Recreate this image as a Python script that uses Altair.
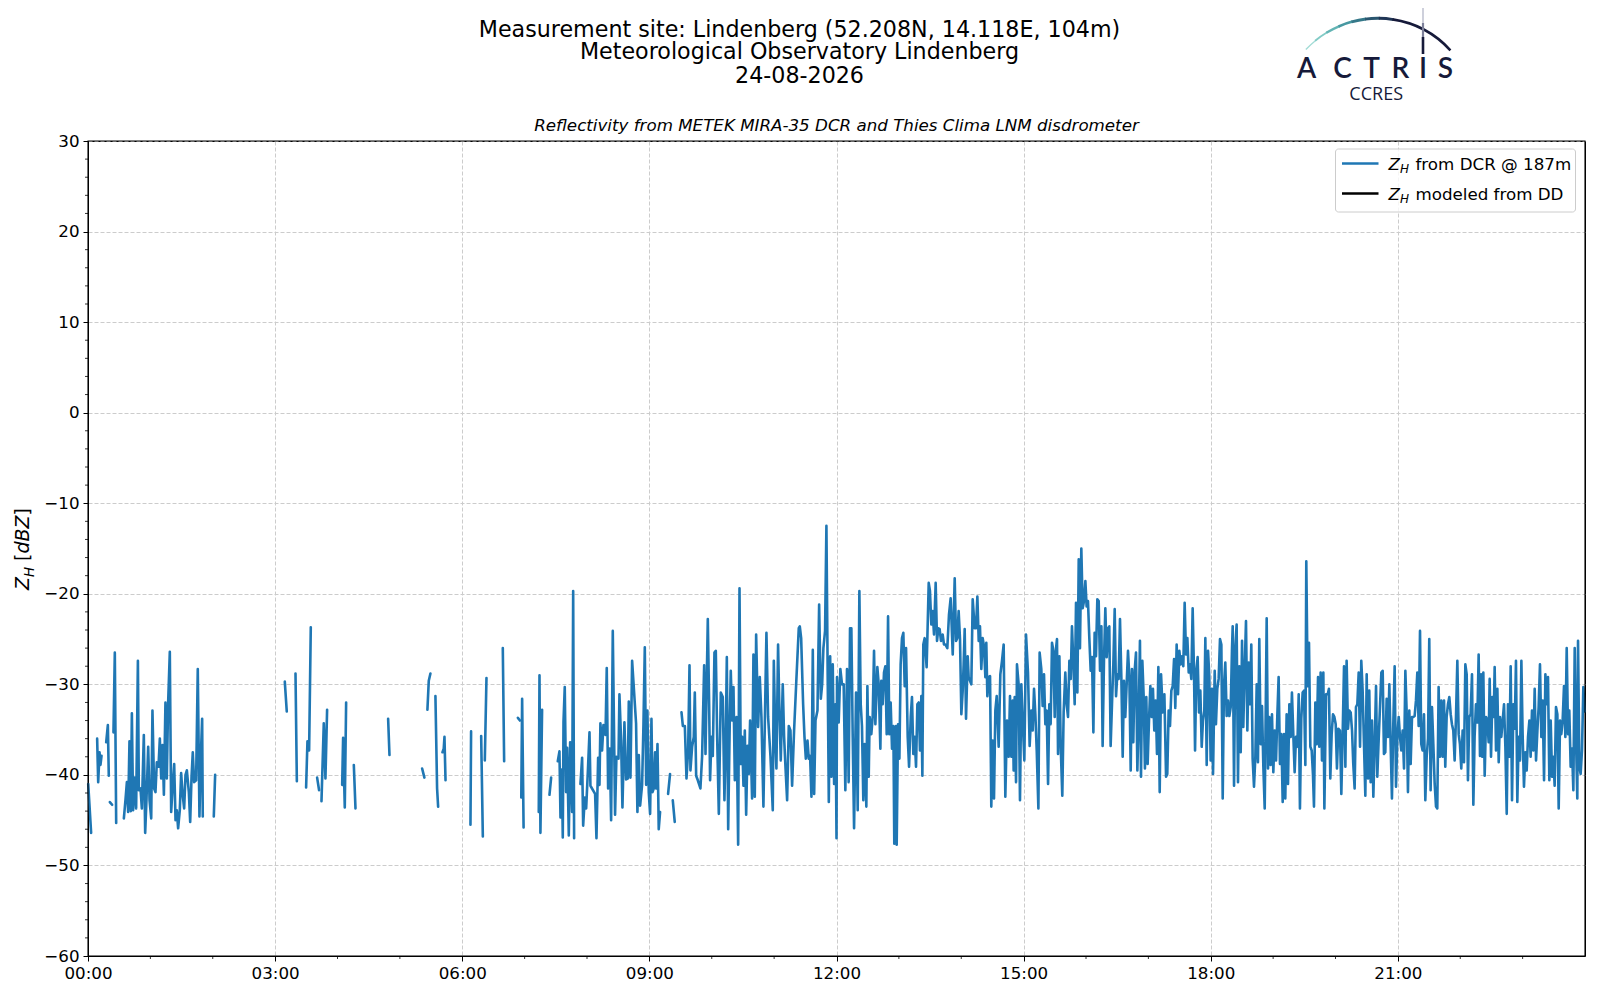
import altair as alt
import pandas as pd

GAP = None  # marks a gap in the radar record

# (minute of day, Z_H in dBZ)
dcr_0000_0300 = [
    (0.2, -41.0), (3.0, -46.4), GAP,
    (8.8, -36.0), (9.8, -40.8), (11.1, -37.5), (12.0, -38.9), (13.0, -37.9), GAP,
    (17.5, -36.4), (19.1, -34.5), (20.0, -40.1), GAP,
    (21.0, -43.0), (23.2, -43.3), GAP,
    (24.5, -35.3), (25.8, -26.5), (27.1, -45.3), GAP,
    (34.5, -44.8), (36.1, -42.7), (37.4, -40.8), (38.6, -44.1), (39.9, -36.3), (41.2, -44.0),
    (42.2, -33.2), (43.4, -43.9), (44.7, -40.3), (46.3, -43.7), (48.0, -27.4), (48.9, -41.7),
    (50.5, -41.5), (51.8, -43.7), (53.7, -35.6), (55.0, -46.4), (56.3, -42.6), (57.9, -36.9),
    (59.2, -42.8), (60.8, -44.8), (62.0, -32.9), (63.6, -41.5), (64.9, -41.9), (66.2, -38.6),
    (67.8, -39.1), (69.1, -36.0), (70.4, -40.4), (71.7, -36.7), (73.0, -42.2), (74.5, -32.0),
    (75.8, -40.4), (77.1, -32.0), (78.7, -26.4), (80.0, -44.1), (81.3, -41.5), (82.9, -38.8),
    (84.2, -45.0), (85.4, -43.9), (86.7, -45.9), (88.3, -43.9), (89.6, -39.8), (90.9, -42.0),
    (92.5, -43.7), (93.8, -40.0), (95.1, -39.5), (97.0, -41.9), (98.3, -45.2), (99.6, -40.2),
    (100.8, -37.5), (102.1, -40.8), (104.0, -40.6), (105.6, -28.3), (107.2, -44.6), (108.5, -38.0),
    (109.8, -33.8), (110.4, -44.6), GAP,
    (121.0, -44.6), (122.3, -40.0),
]

dcr_0300_0600 = [
    GAP,
    (189.3, -29.7), (191.2, -33.0), GAP,
    (199.6, -28.8), (200.9, -40.7), GAP,
    (209.8, -41.4), (211.1, -36.3), (212.7, -37.3), (214.3, -23.7), GAP,
    (220.4, -40.3), (222.3, -41.7), GAP,
    (224.6, -42.9), (226.8, -34.3), (228.4, -40.4), (230.0, -32.8), GAP,
    (244.5, -41.1), (245.4, -35.9), (247.0, -43.6), (248.3, -32.0), GAP,
    (255.7, -38.9), (257.3, -43.7), GAP,
    (288.7, -33.8), (290.0, -37.8), GAP,
    (321.4, -39.3), (323.6, -40.3), GAP,
    (326.5, -32.8), (327.8, -29.6), (329.4, -28.8), GAP,
    (334.2, -31.3), (335.8, -41.5), (336.8, -43.5), GAP,
    (341.0, -37.5), (342.2, -37.1), (342.9, -35.8), (343.9, -40.6),
]

dcr_0600_0930 = [
    GAP,
    (367.9, -45.5), (368.5, -35.2), GAP,
    (378.2, -35.7), (379.8, -46.8), GAP,
    (381.7, -38.4), (383.3, -29.3), GAP,
    (399.0, -26.0), (400.3, -38.5), GAP,
    (413.5, -33.7), (415.5, -34.0), GAP,
    (416.8, -42.5), (417.6, -31.6), (419.0, -45.8), GAP,
    (433.6, -44.1), (434.3, -29.0), (435.2, -46.4), (436.8, -32.8), GAP,
    (443.9, -42.2), (445.5, -40.3), GAP,
    (451.9, -38.5), (453.5, -37.4), (454.5, -44.7), (455.8, -39.4), (456.7, -46.9), (457.4, -34.1),
    (458.6, -30.3), (459.9, -41.9), (460.9, -37.0), (462.5, -46.7), (463.8, -36.4), (465.7, -44.1),
    (466.7, -19.7), (467.6, -47.0), GAP,
    (473.7, -41.0), (475.3, -38.1), (476.3, -45.6), (477.9, -42.5), (479.2, -43.7), (480.8, -39.7),
    (482.4, -35.3), (483.3, -41.2), (487.8, -42.1), (489.1, -47.0), (490.7, -38.1), (492.0, -41.1),
    (492.9, -34.3), (494.5, -37.3), (495.8, -34.5), (497.8, -35.6), (499.0, -28.2), (500.3, -41.5),
    (501.9, -37.1), (503.2, -45.0), (504.8, -24.1), (507.0, -44.4), (508.3, -38.0), (510.3, -38.2),
    (511.2, -31.1), (512.8, -36.2), (514.1, -43.6), (516.0, -34.2), (517.6, -40.5), (519.2, -40.4),
    (520.2, -31.9), (521.8, -40.3), (523.4, -27.4), (527.2, -34.3), (528.5, -44.1), (529.8, -37.8),
    (531.1, -43.4), (533.0, -41.1), (534.3, -34.5), (535.6, -25.9), (536.9, -41.1), (538.1, -32.9),
    (539.4, -41.9), (540.7, -44.3), (542.0, -33.8), (543.0, -41.9), (544.2, -41.5), (545.5, -37.5),
    (546.5, -41.5), (547.8, -36.6), (549.0, -46.0), (550.3, -44.1), GAP,
    (558.0, -42.1), (559.9, -39.9), GAP,
    (562.5, -42.8), (564.4, -45.2), GAP,
]

dcr_0930_1200 = [
    (570.9, -33.1), (572.2, -34.6), (574.1, -34.6), (575.7, -40.4), (577.3, -37.3), (578.6, -27.9),
    (579.5, -39.5), (581.1, -36.9), (582.7, -35.8), (583.7, -30.9), (585.0, -40.1), (586.6, -40.6),
    (589.1, -41.5), (590.7, -38.0), (592.7, -27.9), (594.0, -37.7), (596.2, -22.8), (597.5, -32.2),
    (598.4, -40.6), (599.7, -35.8), (601.0, -37.9), (602.6, -26.5), (603.9, -26.3), (605.2, -35.8),
    (606.8, -44.3), (608.7, -30.9), (610.6, -31.4), (612.2, -42.8), (613.5, -35.8), (614.5, -27.0),
    (615.8, -46.0), (617.4, -33.6), (618.3, -28.5), (619.6, -34.0), (620.9, -30.3), (622.2, -40.6),
    (623.8, -33.6), (625.4, -47.7), (626.7, -19.4), (627.9, -38.8), (629.2, -35.8), (630.5, -41.2),
    (631.8, -35.1), (633.1, -44.4), (634.4, -36.8), (635.6, -39.9), (636.9, -34.0), (638.8, -42.6),
    (640.1, -26.7), (641.4, -42.4), (642.7, -24.5), (644.6, -34.7), (646.2, -29.2), (647.8, -33.6),
    (649.7, -43.5), (651.0, -34.7), (652.6, -24.3), (654.2, -33.6), (656.5, -38.0), (658.7, -43.9),
    (659.7, -27.4), (661.3, -36.6), (662.2, -39.3), (663.8, -25.6), (665.1, -32.9), (666.4, -38.4),
    (668.3, -30.0), (669.6, -35.8), (670.9, -39.1), (672.5, -42.8), (674.1, -34.6), (675.7, -35.1),
    (677.3, -41.2), (679.2, -35.1), (681.2, -30.0), (683.7, -23.8), (684.7, -23.6), (686.0, -24.9),
    (687.9, -32.2), (689.2, -35.8), (690.5, -38.2), (692.1, -36.2), (693.3, -38.2), (694.6, -37.9),
    (695.9, -42.4), (697.2, -26.2), (698.5, -42.1), (699.8, -34.0), (701.7, -32.9), (703.3, -21.2),
    (704.9, -31.6), (706.2, -30.0), (707.4, -26.0), (709.0, -24.1), (710.3, -12.5), (711.6, -30.0),
    (712.6, -43.0), (713.9, -26.9), (715.1, -40.2), (716.4, -27.8), (717.7, -41.0), (719.0, -32.2),
    (720.0, -47.0),
]

dcr_1200_1500 = [
    (720.5, -29.2), (722.1, -34.2), (723.7, -28.3), (725.3, -30.0), (726.9, -30.0), (728.5, -41.7),
    (730.1, -28.3), (731.7, -40.8), (733.0, -23.8), (734.3, -23.8), (735.6, -35.8), (736.9, -45.9),
    (738.8, -30.9), (740.4, -43.9), (742.0, -19.7), (743.3, -32.2), (744.5, -34.6), (745.8, -42.8),
    (747.1, -36.6), (748.7, -43.5), (749.7, -30.2), (751.0, -40.2), (751.9, -33.6), (753.5, -35.5),
    (754.8, -33.6), (756.1, -26.3), (757.4, -34.4), (759.3, -28.1), (760.6, -30.0), (762.2, -37.1),
    (763.1, -29.6), (764.4, -32.2), (765.7, -28.7), (767.0, -28.0), (768.3, -35.5), (769.6, -22.5),
    (770.8, -35.5), (772.1, -32.0), (773.4, -37.1), (774.7, -34.6), (775.6, -47.6), (777.2, -34.6),
    (777.9, -47.7), (779.2, -34.4), (780.5, -38.2), (781.7, -27.8), (783.0, -24.9), (784.3, -24.3),
    (785.6, -30.2), (786.9, -26.0), (788.5, -35.8), (789.8, -39.1), (791.4, -33.6), (792.6, -31.4),
    (793.9, -37.7), (795.2, -35.8), (796.5, -39.1), (797.8, -32.2), (799.1, -32.0), (800.3, -37.3),
    (801.6, -31.3), (802.6, -40.1), (803.5, -25.6), (804.8, -24.9), (806.7, -28.1), (807.4, -24.9),
    (808.7, -18.8), (809.9, -19.7), (811.2, -23.4), (812.5, -21.9), (813.8, -24.5), (815.4, -18.8),
    (816.7, -25.2), (818.0, -23.8), (819.2, -23.9), (820.5, -25.2), (822.1, -24.5), (823.4, -25.6),
    (824.7, -25.6), (826.6, -26.0), (828.2, -22.3), (829.8, -20.5), (831.8, -26.7), (833.7, -18.3),
    (835.0, -25.2), (836.2, -24.9), (837.5, -21.9), (838.8, -25.0), (840.1, -33.3), (841.4, -30.7),
    (842.3, -27.8), (843.3, -23.9), (844.6, -33.8), (846.2, -26.9), (847.1, -29.2), (848.4, -29.6),
    (849.7, -30.0), (851.0, -20.6), (852.9, -23.8), (854.2, -23.8), (855.5, -20.3), (856.8, -25.2),
    (858.0, -23.6), (859.3, -28.3), (860.6, -24.9), (861.9, -25.8), (863.2, -29.2), (864.1, -25.4),
    (865.1, -31.3), (866.4, -29.2), (867.7, -29.1), (868.9, -43.5), (870.2, -36.2), (871.5, -42.6),
    (872.8, -32.9), (874.1, -31.3), (876.0, -36.9), (877.6, -28.9),
]

dcr_1500_1800 = [
    (879.2, -27.4), (880.8, -25.6), (882.4, -42.4), (884.0, -34.0), (885.6, -38.0), (886.9, -31.3),
    (888.2, -38.0), (889.5, -31.8), (890.4, -39.5), (891.4, -31.4), (892.7, -40.8), (893.6, -27.8),
    (895.2, -30.0), (896.5, -42.8), (897.8, -30.0), (899.1, -34.0), (900.7, -38.4), (902.3, -24.5),
    (904.2, -28.7), (905.8, -36.8), (907.4, -32.9), (908.7, -35.1), (910.0, -30.5), (911.3, -33.3),
    (912.6, -37.3), (914.2, -43.7), (915.4, -26.5), (917.0, -28.3), (918.3, -32.4), (919.6, -28.9),
    (920.9, -34.4), (922.2, -32.9), (923.5, -41.0), (924.7, -32.2), (926.0, -34.4), (927.3, -25.4),
    (928.6, -26.3), (929.9, -33.6), (931.2, -26.0), (932.1, -25.0), (933.1, -37.7), (934.4, -26.9),
    (935.6, -36.6), (937.2, -42.3), (938.5, -33.1), (940.1, -28.7), (941.4, -32.2), (942.7, -33.6),
    (944.0, -27.4), (945.3, -29.4), (946.5, -23.6), (947.8, -27.4), (949.1, -32.2), (950.4, -21.0),
    (951.7, -30.9), (953.0, -16.2), (954.2, -26.0), (955.5, -15.0), (956.8, -21.6), (958.1, -20.8),
    (959.4, -18.6), (960.6, -21.4), (961.9, -20.8), (963.2, -24.9), (964.5, -28.5), (965.8, -27.0),
    (967.1, -35.3), (968.3, -24.3), (969.6, -26.9), (970.9, -20.6), (972.2, -20.8), (973.5, -28.5),
    (974.8, -23.6), (976.0, -36.8), (977.3, -27.4), (978.6, -21.6), (979.9, -27.0), (981.2, -23.8),
    (982.4, -23.6), (983.7, -36.8), (985.0, -32.2), (986.3, -27.8), (987.6, -21.7), (988.9, -31.3),
    (990.1, -28.9), (991.4, -29.4), (992.7, -22.8), (994.0, -29.2), (995.3, -38.0), (996.5, -29.6),
    (997.8, -33.6), (999.1, -30.0), (1000.4, -26.3), (1001.7, -29.2), (1003.0, -39.5), (1004.2, -28.3),
    (1005.5, -36.4), (1006.8, -28.5), (1008.1, -26.5), (1009.4, -39.5), (1010.7, -33.6), (1011.9, -25.2),
    (1012.9, -40.2), (1014.2, -27.4), (1015.5, -31.4), (1016.7, -39.3), (1018.0, -31.4), (1019.3, -38.8),
    (1020.6, -34.0), (1021.9, -30.2), (1023.2, -33.6), (1024.4, -30.5), (1025.7, -35.1), (1027.0, -31.8),
    (1028.3, -37.7), (1029.6, -28.1), (1030.9, -41.9),
]

dcr_1800_2100 = [
    (1032.2, -28.9), (1033.8, -33.1), (1035.4, -31.1), (1037.0, -40.2), (1038.2, -39.9), (1039.5, -32.9),
    (1040.8, -34.6), (1042.1, -30.7), (1043.4, -30.2), (1044.7, -27.2), (1045.9, -32.6), (1047.2, -25.6),
    (1048.5, -31.1), (1049.8, -26.3), (1051.1, -27.8), (1052.3, -26.9), (1053.6, -28.0), (1054.9, -21.0),
    (1056.2, -26.7), (1057.5, -24.9), (1058.8, -28.7), (1060.0, -27.8), (1061.3, -29.4), (1062.6, -21.6),
    (1063.9, -28.7), (1064.9, -37.3), (1066.1, -28.5), (1067.4, -27.0), (1068.7, -33.1), (1070.0, -30.7),
    (1071.3, -36.9), (1072.5, -34.0), (1073.8, -32.9), (1074.8, -24.9), (1076.1, -38.9), (1077.4, -26.3),
    (1078.6, -29.1), (1079.9, -38.4), (1081.2, -30.5), (1082.2, -39.9), (1083.8, -28.5), (1085.0, -34.4),
    (1086.3, -30.5), (1087.6, -29.4), (1088.9, -25.0), (1090.2, -25.6), (1091.5, -42.6), (1092.7, -30.2),
    (1094.0, -27.6), (1095.3, -33.5), (1096.6, -31.8), (1097.9, -33.5), (1099.2, -32.5), (1100.4, -26.3),
    (1101.1, -23.6), (1102.4, -41.2), (1103.6, -26.0), (1104.9, -23.4), (1106.2, -40.8), (1107.5, -28.0),
    (1108.8, -37.5), (1110.1, -25.2), (1111.3, -34.7), (1112.6, -28.5), (1113.9, -23.0), (1115.2, -35.1),
    (1116.5, -27.6), (1117.8, -32.2), (1119.0, -25.6), (1120.3, -38.2), (1121.6, -41.3), (1122.9, -38.0),
    (1124.2, -30.0), (1125.4, -38.6), (1126.7, -25.0), (1128.0, -36.6), (1129.3, -32.4), (1130.6, -39.1),
    (1131.9, -43.7), (1133.8, -22.7), (1135.1, -39.3), (1136.3, -33.6), (1137.6, -38.9), (1138.9, -33.3),
    (1140.2, -39.7), (1141.5, -35.1), (1142.8, -38.4), (1144.0, -33.6), (1145.3, -29.2), (1146.6, -38.8),
    (1147.9, -35.5), (1149.2, -43.0), (1150.5, -35.5), (1151.7, -42.6), (1153.0, -33.3), (1154.3, -41.0),
    (1155.6, -32.2), (1156.9, -35.8), (1158.1, -30.9), (1159.4, -35.5), (1160.7, -39.7), (1162.0, -35.8),
    (1163.3, -36.9), (1164.6, -31.1), (1165.8, -43.7), (1167.1, -33.8), (1168.4, -30.9), (1169.7, -30.7),
    (1171.0, -38.9), (1171.9, -16.4), (1173.2, -30.2), (1174.5, -25.4), (1175.8, -36.9), (1177.1, -37.3),
    (1178.3, -39.9), (1179.3, -43.5), (1180.6, -32.0), (1181.9, -36.6), (1183.2, -29.2), (1184.4, -36.9),
]

dcr_2100_2400 = [
    (1185.7, -28.7), (1187.0, -38.4), (1188.3, -28.7), (1189.3, -43.7), (1190.9, -31.1), (1192.5, -31.1),
    (1193.7, -30.5), (1195.0, -40.4), (1196.3, -35.5), (1197.6, -33.3), (1198.9, -33.6), (1200.2, -34.4),
    (1201.4, -39.3), (1202.7, -34.9), (1204.3, -35.1), (1205.6, -42.1), (1206.9, -35.5), (1208.2, -28.0),
    (1209.5, -39.1), (1210.7, -27.4), (1212.0, -34.9), (1213.3, -32.9), (1214.6, -33.1), (1215.9, -35.1),
    (1217.1, -38.8), (1218.4, -41.5), (1219.7, -32.5), (1221.0, -32.2), (1222.3, -28.7), (1223.6, -36.9),
    (1224.8, -27.4), (1226.1, -30.7), (1227.4, -36.6), (1228.7, -42.3), (1230.0, -28.9), (1231.3, -40.4),
    (1232.5, -30.7), (1233.8, -40.8), (1235.1, -34.0), (1236.4, -42.4), (1237.7, -36.6), (1239.0, -30.2),
    (1240.2, -40.2), (1241.5, -36.2), (1242.8, -32.5), (1244.1, -28.7), (1245.4, -28.5), (1246.6, -37.7),
    (1247.9, -37.5), (1249.2, -31.6), (1250.5, -35.8), (1251.8, -30.0), (1253.1, -36.9), (1254.3, -42.6),
    (1255.6, -34.4), (1256.9, -28.0), (1258.2, -41.3), (1259.5, -35.8), (1260.8, -33.6), (1262.0, -35.8),
    (1263.3, -37.3), (1264.6, -35.1), (1265.9, -39.3), (1267.2, -28.5), (1268.4, -32.9), (1269.7, -41.9),
    (1271.0, -32.9), (1272.3, -38.8), (1273.6, -33.6), (1274.9, -33.6), (1276.1, -33.5), (1277.4, -31.8),
    (1278.7, -28.7), (1280.0, -34.6), (1281.3, -24.1), (1282.5, -36.6), (1283.8, -37.3), (1285.1, -33.3),
    (1286.4, -42.8), (1287.7, -38.0), (1289.0, -36.0), (1290.2, -25.0), (1291.5, -41.7), (1292.8, -32.5),
    (1294.1, -36.6), (1295.4, -41.0), (1296.7, -43.5), (1297.9, -43.7), (1299.2, -30.3), (1300.5, -38.0),
    (1301.8, -31.8), (1303.1, -38.0), (1304.4, -31.8), (1305.6, -39.1), (1306.9, -33.6), (1308.2, -32.2),
    (1309.5, -31.4), (1310.8, -33.3), (1312.0, -34.4), (1313.3, -35.1), (1314.6, -38.4), (1315.9, -33.6),
    (1317.2, -27.4), (1318.5, -35.5), (1319.7, -36.6), (1321.0, -39.3), (1322.3, -35.1), (1323.6, -38.6),
    (1324.9, -27.8), (1326.2, -28.9), (1327.4, -40.6), (1328.7, -33.6), (1330.0, -33.3), (1331.3, -28.9),
    (1332.6, -43.3), (1333.8, -35.8), (1335.1, -32.2), (1336.4, -34.2), (1337.7, -26.7), (1339.0, -37.9),
    (1340.0, -28.9), (1341.1, -38.0), (1342.2, -28.7), (1343.5, -40.1), (1344.8, -33.6), (1346.1, -34.0),
    (1347.3, -36.4), (1348.3, -29.4), (1349.6, -38.0), (1350.9, -31.4), (1352.2, -33.6), (1353.1, -28.1),
    (1354.4, -37.3), (1355.7, -30.5), (1357.0, -38.6), (1358.2, -33.6), (1359.5, -35.8), (1360.8, -34.0),
    (1362.1, -32.2), (1363.4, -36.9), (1364.7, -44.3), (1365.9, -32.2), (1367.2, -38.0), (1368.5, -28.0),
    (1369.8, -42.8), (1371.1, -32.2), (1372.4, -34.9), (1373.6, -27.4), (1374.9, -43.0), (1376.2, -35.8),
    (1377.5, -38.4), (1378.8, -27.4), (1380.0, -35.5), (1381.3, -41.3), (1382.6, -37.5), (1383.9, -39.5),
    (1385.2, -35.8), (1386.5, -34.0), (1387.7, -38.0), (1389.0, -32.9), (1390.3, -37.3), (1391.6, -30.5),
    (1392.9, -38.4), (1394.2, -35.1), (1395.4, -32.5), (1396.7, -27.8), (1398.0, -35.8), (1399.3, -31.8),
    (1400.6, -40.6), (1401.9, -28.9), (1403.1, -32.2), (1404.4, -29.2), (1405.7, -40.6), (1407.0, -34.0),
    (1408.3, -40.2), (1409.5, -38.0), (1410.8, -41.2), (1412.1, -32.5), (1413.4, -33.3), (1414.7, -43.7),
    (1416.0, -34.0), (1417.2, -35.5), (1418.5, -34.0), (1419.8, -30.2), (1421.1, -35.8), (1422.4, -26.0),
    (1423.7, -35.5), (1424.9, -32.9), (1426.2, -39.1), (1427.5, -37.1), (1428.8, -41.7), (1430.1, -26.0),
    (1431.3, -35.8), (1432.6, -42.6), (1433.3, -25.2), (1434.6, -39.1), (1435.8, -39.9), (1437.1, -37.3),
    (1438.4, -30.3), (1439.7, -33.0),
]

x_tick_hours = [0, 3, 6, 9, 12, 15, 18, 21]
y_tick_values = [-60, -50, -40, -30, -20, -10, 0, 10, 20, 30]
x_minor_hours = [h for h in range(1, 24) if h % 3 != 0]
y_minor_values = [v for v in range(-58, 30, 2) if v % 10 != 0]

# ---- build the line table (segments split at gaps)
rows = []
seg = 0
for block in [dcr_0000_0300, dcr_0300_0600, dcr_0600_0930, dcr_0930_1200,
              dcr_1200_1500, dcr_1500_1800, dcr_1800_2100, dcr_2100_2400]:
    for p in block:
        if p is None:
            seg += 1
        else:
            rows.append({"hour": p[0] / 60.0, "dbz": p[1], "seg": seg})
df = pd.DataFrame(rows)

W, H = 1497, 815
FONT = "DejaVu Sans"
BLUE = "#1f77b4"
NAVY = "#161a3a"
one = pd.DataFrame({"k": [0]})

x_enc = alt.X(
    "hour:Q",
    scale=alt.Scale(domain=[0, 24], nice=False, zero=False),
    axis=alt.Axis(
        values=x_tick_hours, title=None, grid=True, labelFlush=False, labelOverlap=False,
        labelExpr="(datum.value < 10 ? '0' : '') + datum.value + ':00'",
    ),
)
y_enc = alt.Y(
    "dbz:Q",
    scale=alt.Scale(domain=[-60, 30], nice=False, zero=False),
    axis=alt.Axis(values=y_tick_values, title=None, grid=True, format="d", labelOverlap=False),
)

line = alt.Chart(df).mark_line(
    color=BLUE, strokeWidth=2.6, strokeJoin="round", strokeCap="round"
).encode(x=x_enc, y=y_enc, detail="seg:N", order="hour:Q")

xminor = alt.Chart(pd.DataFrame({"hour": x_minor_hours})).mark_rule(
    color="black", strokeWidth=0.8
).encode(x=x_enc, y=alt.value(H), y2=alt.value(H + 3))

yminor = alt.Chart(pd.DataFrame({"dbz": y_minor_values})).mark_rule(
    color="black", strokeWidth=0.8
).encode(y=y_enc, x=alt.value(-3), x2=alt.value(0))


def txt(s, x, y, size, align="center", baseline="middle", style="normal",
        angle=0, color="black", font=FONT, weight="normal"):
    props = dict(text=s, fontSize=size, align=align, baseline=baseline,
                 fontStyle=style, color=color, font=font, fontWeight=weight)
    if angle:
        props["angle"] = angle
    return alt.Chart(one).mark_text(**props).encode(x=alt.value(x), y=alt.value(y))


def rule(x1, x2, y1, y2, color, width):
    return alt.Chart(one).mark_rule(color=color, strokeWidth=width, strokeCap="butt").encode(
        x=alt.value(x1), x2=alt.value(x2), y=alt.value(y1), y2=alt.value(y2))


# plot frame drawn on top of the grid
frame = alt.Chart(one).mark_rect(filled=False, stroke="black", strokeWidth=1.1).encode(
    x=alt.value(0), x2=alt.value(W), y=alt.value(0), y2=alt.value(H))

layers = [line, xminor, yminor, frame]

# ---- titles
TX = 711.5
layers += [
    txt("Measurement site: Lindenberg (52.208N, 14.118E, 104m)", TX, -111.4, 22.2),
    txt("Meteorological Observatory Lindenberg", TX, -89.0, 22.2),
    txt("24-08-2026", TX, -65.5, 22.2),
    txt("Reflectivity from METEK MIRA-35 DCR and Thies Clima LNM disdrometer",
        W / 2, -15.5, 16.7, style="italic"),
]

# ---- y-axis title  Z_H [dBZ]  (rotated)
YB = -59.0
layers += [
    txt("Z", YB, 449, 19, align="left", baseline="alphabetic", style="italic", angle=270),
    txt("H", YB + 4.5, 436, 13.3, align="left", baseline="alphabetic", style="italic", angle=270),
    txt("[", YB, 420, 19, align="left", baseline="alphabetic", angle=270),
    txt("dBZ", YB, 412.6, 19, align="left", baseline="alphabetic", style="italic", angle=270),
    txt("]", YB, 374.5, 19, align="left", baseline="alphabetic", angle=270),
]

# ---- legend
legend_box = alt.Chart(one).mark_rect(
    fill="white", fillOpacity=0.8, stroke="#cccccc", strokeWidth=1, cornerRadius=3
).encode(x=alt.value(1247.5), x2=alt.value(1487.5), y=alt.value(8), y2=alt.value(71))
layers += [
    legend_box,
    rule(1254, 1290.5, 22.5, 22.5, BLUE, 2.6),
    rule(1254, 1290.5, 52.5, 52.5, "black", 2.6),
]
for yc, rest in [(22.5, "from DCR @ 187m"), (52.5, "modeled from DD")]:
    base = yc + 6.0
    layers += [
        txt("Z", 1300.5, base, 16.7, align="left", baseline="alphabetic", style="italic"),
        txt("H", 1312.0, base + 3.6, 12.0, align="left", baseline="alphabetic", style="italic"),
        txt(rest, 1327.5, base, 16.7, align="left", baseline="alphabetic"),
    ]

# ---- ACTRIS / CCRES logo
arc_t1 = [-0.82, -0.69, -0.55, -0.41, -0.27, -0.13, 0.01, 0.15]
arc_t2 = [-0.68, -0.54, -0.40, -0.26, -0.12, 0.02, 0.16, 0.83]
arc_w = [1.4, 1.9, 2.3, 2.6, 2.8, 2.9, 2.9, 2.6]
arc_c = ["#a3dcd6", "#82cbc6", "#62b4b4", "#4798a1", "#357889", "#2a566f", "#1f3555", NAVY]
R = 98.4
arc_df = pd.DataFrame({
    "t1": arc_t1, "t2": arc_t2,
    "ro": [R + w / 2 for w in arc_w], "ri": [R - w / 2 for w in arc_w],
    "c": arc_c,
})
arc = alt.Chart(arc_df).mark_arc().encode(
    x=alt.value(1289.8), y=alt.value(-24.3),
    theta=alt.Theta("t1:Q", scale=None, stack=False),
    theta2=alt.Theta2(field="t2"),
    radius=alt.Radius("ro:Q", scale=None),
    radius2=alt.Radius2(field="ri"),
    color=alt.Color("c:N", scale=None),
)
layers += [
    arc,
    rule(1335, 1335, -133, -118, "#c9cbd8", 1.8),
    rule(1335, 1335, -118, -104, "#7d8099", 2.2),
    rule(1335, 1335, -104, -87, NAVY, 2.6),
]
for letter, lx in [("A", 1218.5), ("C", 1254.5), ("T", 1283.5), ("R", 1312.5), ("I", 1335.0), ("S", 1357.5)]:
    layers.append(txt(letter, lx, -63.0, 28, baseline="alphabetic", color=NAVY, font="Lato", weight=600))
layers.append(txt("CCRES", 1288.2, -40.8, 18, baseline="alphabetic", color=NAVY, font="Open Sans"))

chart = alt.layer(*layers).properties(
    width=W, height=H,
    padding={"left": 80, "top": 133, "right": 6, "bottom": 30},
    autosize=alt.AutoSizeParams(type="none"),
).configure_view(
    stroke="black", strokeWidth=1
).configure_axis(
    labelFont=FONT, labelFontSize=16.7, labelColor="black",
    tickColor="black", tickSize=5, tickWidth=1,
    domainColor="black", domainWidth=1, labelPadding=4,
    gridColor="#cccccc", gridDash=[4, 2], gridWidth=1,
)

chart.save("out.html", embed_options={"renderer": "svg", "actions": False})
